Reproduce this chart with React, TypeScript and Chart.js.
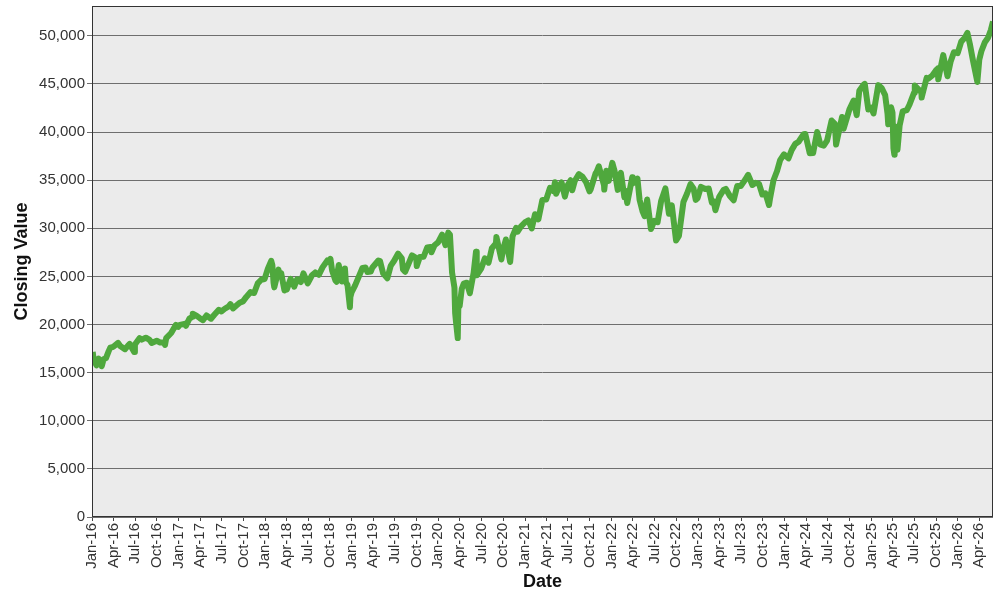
import React, { useEffect, useRef } from "react";
import { Chart, registerables } from "chart.js";

Chart.register(...registerables);

// ---- data ----
const dates: string[] = [
  "2016-01-04","2016-01-08","2016-01-15","2016-01-20","2016-01-29","2016-02-05","2016-02-11","2016-02-19","2016-02-29",
  "2016-03-11","2016-03-18","2016-03-31","2016-04-20","2016-04-29","2016-05-19","2016-05-31","2016-06-08","2016-06-27",
  "2016-06-30","2016-07-20","2016-07-29","2016-08-15","2016-08-31","2016-09-09","2016-09-30","2016-10-14","2016-10-31",
  "2016-11-04","2016-11-09","2016-11-30","2016-12-20","2016-12-30",
  "2017-01-06","2017-01-25","2017-01-31","2017-02-15","2017-02-28","2017-03-01","2017-03-15","2017-03-31","2017-04-13",
  "2017-04-28","2017-05-17","2017-05-31","2017-06-19","2017-06-30","2017-07-14","2017-07-31","2017-08-07","2017-08-18",
  "2017-08-31","2017-09-15","2017-09-29","2017-10-13","2017-10-31","2017-11-15","2017-11-30","2017-12-15","2017-12-29",
  "2018-01-12","2018-01-26","2018-01-31","2018-02-05","2018-02-08","2018-02-26","2018-02-28","2018-03-09","2018-03-23",
  "2018-03-29","2018-04-02","2018-04-18","2018-04-30","2018-05-03","2018-05-15","2018-05-31","2018-06-11","2018-06-29",
  "2018-07-17","2018-07-31","2018-08-15","2018-08-31","2018-09-20","2018-09-28","2018-10-03","2018-10-10","2018-10-24",
  "2018-10-29","2018-10-31","2018-11-07","2018-11-20","2018-11-30","2018-12-03","2018-12-07","2018-12-14","2018-12-24",
  "2018-12-26","2018-12-31",
  "2019-01-15","2019-01-31","2019-02-15","2019-02-28","2019-03-08","2019-03-22","2019-03-29","2019-04-23","2019-04-30",
  "2019-05-13","2019-05-31","2019-06-14","2019-06-28","2019-07-15","2019-07-31","2019-08-05","2019-08-14","2019-08-30",
  "2019-09-12","2019-09-30","2019-10-02","2019-10-15","2019-10-31","2019-11-15","2019-11-29","2019-12-03","2019-12-16",
  "2019-12-31",
  "2020-01-17","2020-01-31","2020-02-12","2020-02-19","2020-02-28","2020-03-09","2020-03-12","2020-03-16","2020-03-23",
  "2020-03-26","2020-03-31","2020-04-09","2020-04-17","2020-04-30","2020-05-13","2020-05-29","2020-06-08","2020-06-11",
  "2020-06-30","2020-07-15","2020-07-31","2020-08-14","2020-08-31","2020-09-02","2020-09-23","2020-09-30","2020-10-12",
  "2020-10-30","2020-11-09","2020-11-24","2020-11-30","2020-12-15","2020-12-31",
  "2021-01-15","2021-01-29","2021-02-12","2021-02-26","2021-03-15","2021-03-31","2021-04-16","2021-04-30","2021-05-07",
  "2021-05-12","2021-05-28","2021-06-04","2021-06-18","2021-06-30","2021-07-12","2021-07-19","2021-07-30","2021-08-16",
  "2021-08-31","2021-09-15","2021-09-30","2021-10-04","2021-10-26","2021-10-29","2021-11-08","2021-11-30","2021-12-01",
  "2021-12-10","2021-12-20","2021-12-31",
  "2022-01-04","2022-01-14","2022-01-27","2022-01-31","2022-02-09","2022-02-24","2022-02-28","2022-03-08","2022-03-29",
  "2022-03-31","2022-04-20","2022-04-29","2022-05-12","2022-05-20","2022-05-31","2022-06-16","2022-06-30","2022-07-14",
  "2022-07-29","2022-08-16","2022-08-31","2022-09-12","2022-09-30","2022-10-12","2022-10-31","2022-11-15","2022-11-30",
  "2022-12-13","2022-12-22","2022-12-30",
  "2023-01-13","2023-01-31","2023-02-15","2023-02-28","2023-03-08","2023-03-15","2023-03-31","2023-04-18","2023-04-28",
  "2023-05-15","2023-05-31","2023-06-15","2023-06-30","2023-07-19","2023-07-31","2023-08-18","2023-08-31","2023-09-15",
  "2023-09-29","2023-10-12","2023-10-27","2023-10-31","2023-11-15","2023-11-30","2023-12-13","2023-12-29",
  "2024-01-17","2024-01-31","2024-02-15","2024-02-29","2024-03-21","2024-03-28","2024-04-16","2024-04-30","2024-05-17",
  "2024-05-31","2024-06-14","2024-06-28","2024-07-17","2024-07-31","2024-08-05","2024-08-30","2024-09-06","2024-09-30",
  "2024-10-18","2024-10-31","2024-11-11","2024-11-29","2024-12-04","2024-12-19","2024-12-31",
  "2025-01-10","2025-01-30","2025-02-14","2025-02-28","2025-03-10","2025-03-13","2025-03-25","2025-03-31","2025-04-04",
  "2025-04-08","2025-04-09","2025-04-21","2025-04-30","2025-05-13","2025-05-30","2025-06-11","2025-06-30","2025-07-03",
  "2025-07-31","2025-08-01","2025-08-22","2025-08-29","2025-09-15","2025-09-30","2025-10-08","2025-10-10","2025-10-31",
  "2025-11-18","2025-12-01","2025-12-15","2025-12-31",
  "2026-01-15","2026-01-30","2026-02-10","2026-02-20","2026-03-05","2026-03-24","2026-04-01","2026-04-10","2026-04-24",
  "2026-05-08","2026-05-20","2026-05-29",
];

const closes: number[] = [
  17149,16346,15988,15766,16466,16205,15660,16392,16517,
  17213,17602,17685,18096,17774,17435,17787,17985,17140,
  17930,18595,18432,18636,18401,18085,18308,18138,18142,
  17888,18589,19124,19975,19763,
  19964,20069,19864,20611,20812,21115,20950,20663,20453,
  20941,20606,21009,21528,21350,21638,21891,22118,21675,
  21948,22268,22405,22871,23377,23272,24272,24651,24719,
  25803,26617,26149,24346,23860,25709,25029,25336,23533,
  24103,23644,24748,24163,23930,24706,24416,25322,24271,
  25120,25415,25162,25965,26657,26458,26828,25599,24583,
  24443,25116,26180,24465,25538,25826,24389,24100,21792,
  22878,23327,
  24065,24999,25883,25916,25450,25502,25929,26656,26593,
  25324,24815,26090,26600,27359,26864,25718,25479,26403,
  27182,26917,26079,27024,27046,28005,28051,27503,28235,
  28538,
  29348,28256,29551,29348,25409,23851,21200,20189,18592,
  22552,21917,23719,24242,24346,23248,25383,27572,25128,
  25813,26870,26428,27931,28430,29100,26763,27782,28838,
  26502,29158,30046,29639,30200,30606,
  30814,29983,31458,30932,32953,32982,34200,33875,34778,
  33587,34529,34756,33290,34503,34996,33962,34935,35625,
  35361,34814,33844,34002,35756,35820,36432,34484,34022,
  35971,34932,36338,
  36800,35912,33990,35132,35768,33224,33893,32632,35294,
  34678,35161,32977,31730,31262,32990,29927,30775,30630,
  32845,34152,31510,32381,28726,29211,32733,33593,34590,
  34109,32950,33147,
  34303,34086,34128,32657,32798,31875,33274,33977,34098,
  33348,32908,34408,34408,35061,35560,34500,34722,34618,
  33508,33632,32418,33053,34992,35951,37090,37690,
  37267,38150,38773,38996,39781,39807,37798,37816,40004,
  38686,38589,39119,41198,40843,38703,41563,40345,42330,
  43275,41763,44293,44911,45014,42342,42544,
  41938,44882,44546,43841,41912,40813,42587,42001,38315,
  37645,40608,38170,40669,42140,42270,42865,44094,44828,
  44130,43589,45631,45545,45880,46400,46600,45480,48000,
  45800,47300,48300,48200,
  49400,49800,50300,49200,47500,45200,47500,48400,49300,
  49800,50600,51500,
];

const xTickLabels: string[] = [
  "Jan-16","Apr-16","Jul-16","Oct-16","Jan-17","Apr-17","Jul-17","Oct-17",
  "Jan-18","Apr-18","Jul-18","Oct-18","Jan-19","Apr-19","Jul-19","Oct-19",
  "Jan-20","Apr-20","Jul-20","Oct-20","Jan-21","Apr-21","Jul-21","Oct-21",
  "Jan-22","Apr-22","Jul-22","Oct-22","Jan-23","Apr-23","Jul-23","Oct-23",
  "Jan-24","Apr-24","Jul-24","Oct-24","Jan-25","Apr-25","Jul-25","Oct-25",
  "Jan-26","Apr-26",
];

const yTickValues: number[] = [0, 5000, 10000, 15000, 20000, 25000, 30000, 35000, 40000, 45000, 50000];

const yMax = 53100;
const xStart = "2016-01-01";
const xEnd = "2026-05-29";

// ---- helpers ----
const MONTHS = ["Jan","Feb","Mar","Apr","May","Jun","Jul","Aug","Sep","Oct","Nov","Dec"];
const toMs = (s: string) => {
  const [y, m, d] = s.split("-").map(Number);
  return Date.UTC(y, m - 1, d);
};
const labelToMs = (l: string) => {
  const [mon, yy] = l.split("-");
  return Date.UTC(2000 + Number(yy), MONTHS.indexOf(mon), 1);
};

const FONT = "'Liberation Sans', Arial, Helvetica, sans-serif";

const plotFrame = {
  id: "plotFrame",
  beforeDraw(chart: any) {
    const { ctx, chartArea: a } = chart;
    ctx.save();
    ctx.fillStyle = "#EBEBEB";
    ctx.fillRect(a.left, a.top, a.right - a.left, a.bottom - a.top);
    ctx.restore();
  },
  afterDatasetsDraw(chart: any) {
    const { ctx, chartArea: a } = chart;
    ctx.save();
    ctx.strokeStyle = "#333333";
    ctx.lineWidth = 1;
    const l = Math.round(a.left) + 0.5;
    const t = Math.round(a.top) + 0.5;
    const r = Math.round(a.right) - 0.5;
    const b = Math.round(a.bottom) - 0.5;
    ctx.strokeRect(l, t, r - l, b - t);
    ctx.restore();
  },
};

export default function App() {
  const ref = useRef<HTMLCanvasElement | null>(null);

  useEffect(() => {
    document.body.style.margin = "0";
    if (!ref.current) return;
    const points = dates.map((d, i) => ({ x: toMs(d), y: closes[i] }));
    const chart = new Chart(ref.current, {
      type: "line",
      data: {
        datasets: [
          {
            data: points,
            borderColor: "#4FA83D",
            borderWidth: 6,
            borderJoinStyle: "round",
            pointRadius: 0,
            tension: 0,
            fill: false,
          },
        ],
      },
      options: {
        animation: false,
        responsive: false,
        devicePixelRatio: 1,
        layout: { padding: { left: 0, right: 7, top: 6, bottom: 0 } },
        plugins: { legend: { display: false }, tooltip: { enabled: false }, title: { display: false } },
        scales: {
          x: {
            type: "linear",
            min: toMs(xStart),
            max: toMs(xEnd),
            afterBuildTicks: (scale: any) => {
              scale.ticks = xTickLabels.map((l) => ({ value: labelToMs(l) }));
            },
            afterFit: (scale: any) => {
              scale.height = 83;
            },
            grid: { display: true, drawOnChartArea: false, drawTicks: true, tickLength: 4, color: "#444" },
            border: { display: false },
            ticks: {
              autoSkip: false,
              minRotation: 90,
              maxRotation: 90,
              padding: 2,
              color: "#333",
              font: { family: FONT, size: 15 },
              callback: (_v: any, i: number) => xTickLabels[i],
            },
            title: {
              display: true,
              text: "Date",
              color: "#111",
              font: { family: FONT, size: 18, weight: "bold" },
              padding: { top: 0, bottom: 7 },
            },
          },
          y: {
            type: "linear",
            min: 0,
            max: yMax,
            afterBuildTicks: (scale: any) => {
              scale.ticks = yTickValues.map((v) => ({ value: v }));
            },
            afterFit: (scale: any) => {
              scale.width = 92;
              scale.paddingTop = 0;
              scale.paddingBottom = 0;
            },
            grid: { color: "#6E6E6E", lineWidth: 1, drawTicks: true, tickLength: 5 },
            border: { display: false },
            ticks: {
              autoSkip: false,
              padding: 2,
              color: "#333",
              font: { family: FONT, size: 15 },
              callback: (_v: any, i: number) => yTickValues[i].toLocaleString("en-US"),
            },
            title: {
              display: true,
              text: "Closing Value",
              color: "#111",
              font: { family: FONT, size: 18, weight: "bold" },
              padding: { top: 11, bottom: 0 },
            },
          },
        },
      },
      plugins: [plotFrame],
    });
    return () => chart.destroy();
  }, []);

  return (
    <div style={{ position: "absolute", left: 0, top: 0, width: 1000, height: 600, background: "#fff" }}>
      <canvas ref={ref} width={1000} height={600} />
    </div>
  );
}
